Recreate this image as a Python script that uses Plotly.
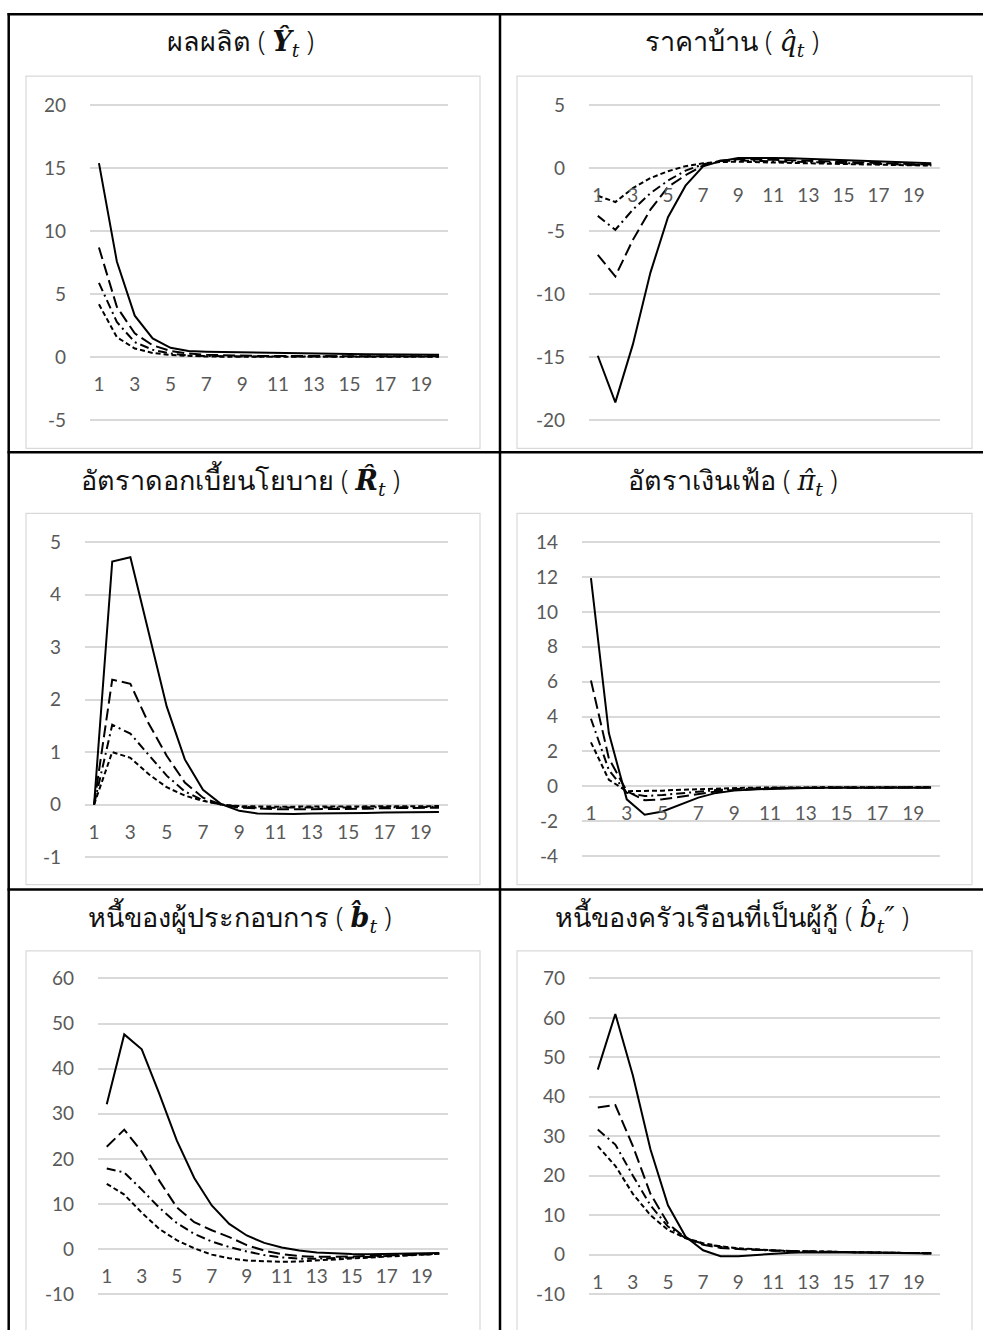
import plotly.graph_objects as go

# ---------------- data ----------------
periods = list(range(1, 21))
x_tick_vals = [1, 3, 5, 7, 9, 11, 13, 15, 17, 19]
x_tick_text = [str(v) for v in x_tick_vals]

titles = [
    "ผลผลิต",
    "ราคาบ้าน",
    "อัตราดอกเบี้ยนโยบาย",
    "อัตราเงินเฟ้อ",
    "หนี้ของผู้ประกอบการ",
    "หนี้ของครัวเรือนที่เป็นผู้กู้",
]
symbols = [
    "<b><i>Ŷ</i></b><sub><i>t</i></sub>",
    "<i>q\u0302</i><sub><i>t</i></sub>",
    "<b><i>R\u0302</i></b><sub><i>t</i></sub>",
    "<i>π\u0302</i><sub><i>t</i></sub>",
    "<b><i>b\u0302</i></b><sub><i>t</i></sub>",
    "<i>b\u0302</i><sub><i>t</i></sub><i>″</i>",
]

y_min = [-5, -20, -1, -4, -10, -10]
y_max = [20, 5, 5, 14, 60, 70]
y_step = [5, 5, 1, 2, 10, 10]

# output Y
y_solid = [15.4, 7.6, 3.3, 1.5, 0.75, 0.5, 0.45, 0.42, 0.4, 0.37, 0.34, 0.32, 0.3, 0.28, 0.26, 0.25, 0.24, 0.23, 0.22, 0.21]
y_long = [8.7, 4.0, 1.9, 0.95, 0.5, 0.3, 0.2, 0.15, 0.12, 0.1, 0.1, 0.1, 0.1, 0.09, 0.09, 0.09, 0.08, 0.08, 0.08, 0.08]
y_dashdot = [5.9, 2.8, 1.2, 0.6, 0.3, 0.15, 0.1, 0.07, 0.06, 0.06, 0.06, 0.06, 0.06, 0.06, 0.06, 0.06, 0.06, 0.06, 0.06, 0.06]
y_short = [4.2, 1.6, 0.7, 0.35, 0.18, 0.1, 0.06, 0.05, 0.05, 0.05, 0.05, 0.05, 0.05, 0.05, 0.05, 0.05, 0.05, 0.05, 0.05, 0.05]

# house price q
q_solid = [-14.9, -18.6, -14.0, -8.3, -3.9, -1.4, 0.13, 0.55, 0.8, 0.82, 0.8, 0.77, 0.72, 0.67, 0.62, 0.57, 0.52, 0.47, 0.43, 0.38]
q_long = [-6.9, -8.6, -5.7, -3.3, -1.5, -0.57, 0.2, 0.6, 0.7, 0.7, 0.66, 0.62, 0.57, 0.52, 0.47, 0.43, 0.39, 0.35, 0.31, 0.28]
q_dashdot = [-3.8, -4.9, -3.3, -2.0, -1.0, -0.2, 0.3, 0.55, 0.6, 0.58, 0.55, 0.51, 0.47, 0.43, 0.39, 0.35, 0.31, 0.28, 0.25, 0.22]
q_short = [-2.2, -2.7, -1.6, -0.8, -0.25, 0.15, 0.38, 0.48, 0.5, 0.48, 0.45, 0.42, 0.38, 0.35, 0.32, 0.29, 0.26, 0.23, 0.21, 0.19]

# policy rate R
r_solid = [0, 4.63, 4.71, 3.3, 1.87, 0.86, 0.28, 0.01, -0.12, -0.17, -0.18, -0.18, -0.17, -0.17, -0.16, -0.16, -0.15, -0.15, -0.14, -0.14]
r_long = [0, 2.38, 2.30, 1.55, 0.93, 0.42, 0.13, 0.0, -0.06, -0.08, -0.09, -0.09, -0.09, -0.08, -0.08, -0.08, -0.07, -0.07, -0.07, -0.06]
r_dashdot = [0, 1.52, 1.35, 0.95, 0.55, 0.25, 0.08, 0.0, -0.04, -0.06, -0.06, -0.06, -0.06, -0.06, -0.05, -0.05, -0.05, -0.05, -0.05, -0.04]
r_short = [0, 1.0, 0.89, 0.58, 0.33, 0.17, 0.07, 0.0, -0.03, -0.04, -0.04, -0.04, -0.04, -0.04, -0.04, -0.04, -0.03, -0.03, -0.03, -0.03]

# inflation pi
p_solid = [11.94, 3.05, -0.75, -1.63, -1.45, -1.03, -0.65, -0.38, -0.25, -0.18, -0.14, -0.12, -0.1, -0.09, -0.09, -0.08, -0.08, -0.08, -0.08, -0.08]
p_long = [6.07, 1.6, -0.28, -0.8, -0.75, -0.6, -0.45, -0.3, -0.22, -0.16, -0.13, -0.1, -0.09, -0.08, -0.08, -0.07, -0.07, -0.07, -0.07, -0.07]
p_dashdot = [3.87, 0.93, -0.37, -0.56, -0.5, -0.4, -0.3, -0.22, -0.16, -0.12, -0.1, -0.08, -0.08, -0.07, -0.07, -0.07, -0.06, -0.06, -0.06, -0.06]
p_short = [2.52, 0.37, -0.28, -0.28, -0.25, -0.2, -0.16, -0.12, -0.1, -0.08, -0.07, -0.06, -0.06, -0.06, -0.05, -0.05, -0.05, -0.05, -0.05, -0.05]

# entrepreneur debt b
b_solid = [32.1, 47.6, 44.3, 34.5, 24.1, 15.8, 9.7, 5.6, 3.05, 1.4, 0.4, -0.3, -0.7, -0.95, -1.05, -1.1, -1.05, -1.0, -0.95, -0.85]
b_long = [22.7, 26.5, 21.6, 15.2, 9.3, 6.0, 4.2, 2.7, 0.9, -0.3, -1.1, -1.5, -1.7, -1.7, -1.6, -1.5, -1.4, -1.25, -1.1, -1.0]
b_dashdot = [17.9, 17.0, 13.2, 9.2, 5.8, 3.4, 1.7, 0.5, -0.5, -1.3, -1.8, -2.1, -2.1, -2.0, -1.9, -1.7, -1.5, -1.35, -1.2, -1.0]
b_short = [14.5, 12.1, 8.1, 4.5, 2.0, 0.2, -1.2, -2.0, -2.5, -2.7, -2.8, -2.7, -2.5, -2.3, -2.05, -1.8, -1.6, -1.4, -1.2, -1.0]

# borrower household debt b''
h_solid = [46.9, 61.0, 45.4, 26.7, 12.5, 4.6, 1.1, -0.4, -0.4, -0.1, 0.3, 0.5, 0.6, 0.6, 0.55, 0.5, 0.45, 0.4, 0.35, 0.3]
h_long = [37.3, 37.9, 27.5, 15.4, 7.9, 4.2, 2.5, 1.7, 1.4, 1.2, 1.0, 0.9, 0.8, 0.7, 0.6, 0.55, 0.5, 0.45, 0.4, 0.35]
h_dashdot = [31.7, 27.9, 20.0, 12.5, 7.1, 4.2, 2.75, 2.0, 1.5, 1.2, 1.0, 0.9, 0.8, 0.7, 0.6, 0.55, 0.5, 0.45, 0.4, 0.35]
h_short = [27.5, 22.5, 15.4, 10.0, 6.25, 4.2, 2.9, 2.1, 1.6, 1.3, 1.1, 0.9, 0.8, 0.7, 0.6, 0.55, 0.5, 0.45, 0.4, 0.35]

panel_series = [
    [y_solid, y_long, y_dashdot, y_short],
    [q_solid, q_long, q_dashdot, q_short],
    [r_solid, r_long, r_dashdot, r_short],
    [p_solid, p_long, p_dashdot, p_short],
    [b_solid, b_long, b_dashdot, b_short],
    [h_solid, h_long, h_dashdot, h_short],
]

# ---------------- layout geometry (pixels) ----------------
W, H = 983, 1330
def fx(px):
    return px / W
def fy(py):
    return 1 - py / H

# gridline area: x0, x1, ytop, ybottom
grid_boxes = [
    (90, 448, 97.3, 416.7),
    (589, 940, 97.3, 416.3),
    (85, 448, 540, 859),
    (582, 940, 540, 858),
    (98, 448, 982, 1302),
    (589, 940, 982, 1301.7),
]
# light frame of each chart
frames = [
    (26, 68, 480, 445),
    (517, 68, 972, 445),
    (26, 511, 480, 887),
    (517, 511, 972, 887),
    (26, 954, 480, 1340),
    (517, 954, 972, 1340),
]
title_pos = [(240, 33), (732, 33), (240, 478), (732, 478), (240, 920), (732, 920)]

line_styles = [
    dict(color="black", width=2, dash="solid"),
    dict(color="black", width=2, dash="12px,5px"),
    dict(color="black", width=2, dash="9px,4px,2px,4px"),
    dict(color="black", width=2, dash="5px,3px"),
]

fig = go.Figure()
layout = dict(
    width=W, height=H,
    margin=dict(l=0, r=0, t=0, b=0),
    paper_bgcolor="white", plot_bgcolor="rgba(0,0,0,0)",
    showlegend=False,
    font=dict(family="Lato", size=19, color="#595959"),
)
shapes = []
annotations = []
PAD = 3  # px of padding so end gridlines are kept

for i in range(6):
    n = "" if i == 0 else str(i + 1)
    x0, x1, yt, yb = grid_boxes[i]
    ymn, ymx = y_min[i], y_max[i]
    upp = (ymx - ymn) / (yb - yt)  # units per pixel
    rng = [ymn - PAD * upp, ymx + PAD * upp]
    ydom = [fy(yb + PAD), fy(yt - PAD)]
    zero_pos = ydom[0] + (0 - rng[0]) / (rng[1] - rng[0]) * (ydom[1] - ydom[0])
    yvals = list(range(ymn, ymx + 1, y_step[i]))

    for s, st in zip(panel_series[i], line_styles):
        fig.add_trace(go.Scatter(x=periods, y=s, mode="lines", line=st,
                                 xaxis="x" + n, yaxis="y" + n, hoverinfo="skip"))

    layout["xaxis" + n] = dict(
        domain=[fx(x0), fx(x1)], range=[0.5, 20.5], anchor="free", position=zero_pos,
        tickmode="array", tickvals=x_tick_vals, ticktext=x_tick_text,
        showgrid=False, zeroline=False, showline=False, ticks="",
        ticklabelstandoff=14, tickfont=dict(family="Lato", size=19, color="#595959"),
    )
    layout["yaxis" + n] = dict(
        domain=ydom, range=rng, anchor="x" + n,
        tickmode="array", tickvals=yvals, ticktext=[str(v) for v in yvals],
        showgrid=True, gridcolor="#D9D9D9", gridwidth=1.5,
        zeroline=False, showline=False, ticks="",
        ticklabelstandoff=23, tickfont=dict(family="Lato", size=19, color="#595959"),
    )

    fx0, fy0, fx1, fy1 = frames[i]
    shapes.append(dict(type="rect", xref="paper", yref="paper",
                       x0=fx(fx0), x1=fx(fx1), y0=fy(fy1), y1=fy(fy0),
                       line=dict(color="#D9D9D9", width=1.2), layer="below"))

    tx, ty = title_pos[i]
    annotations.append(dict(
        xref="paper", yref="paper", x=fx(tx), y=fy(ty), xanchor="center", yanchor="middle",
        showarrow=False,
        text=titles[i] + " ( <span style='font-family:DejaVu Serif'>" + symbols[i] + "</span> )",
        font=dict(family="Noto Sans, DejaVu Sans", size=27, color="#111111", weight=300),
    ))

# table rules
def hline(py, xa, xb):
    return dict(type="line", xref="paper", yref="paper", x0=fx(xa), x1=fx(xb), y0=fy(py), y1=fy(py),
                line=dict(color="black", width=2.5))
def vline(px, ya, yb):
    return dict(type="line", xref="paper", yref="paper", x0=fx(px), x1=fx(px), y0=fy(ya), y1=fy(yb),
                line=dict(color="black", width=2.5))

shapes += [
    hline(5.3, 7.5, 990),
    hline(449, 7.5, 990),
    hline(892, 7.5, 990),
    vline(8.7, 4, 1340),
    vline(500, 4, 1340),
]

layout["shapes"] = shapes
layout["annotations"] = annotations
fig.update_layout(**layout)
fig.write_html("out.html")
